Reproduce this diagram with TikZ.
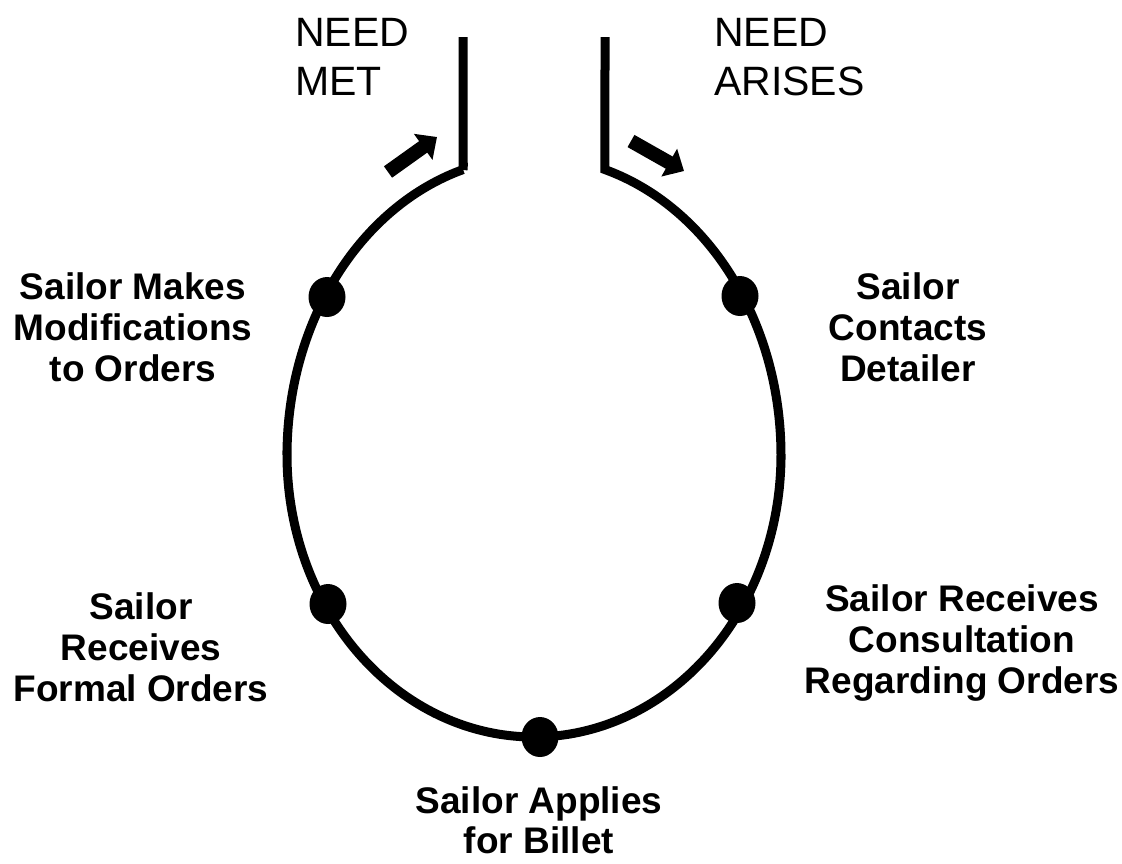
\documentclass[tikz,border=0pt]{standalone}
\usepackage{fontspec}
\setmainfont{Liberation Sans}
\usetikzlibrary{arrows.meta,shapes.geometric}
\tikzset{
  curve/.style={line width=9pt, line join=miter},
  blockarrow/.style={line width=14pt, -{Triangle[length=17pt,width=31pt]}},
  dot/.style={ellipse, fill=black, inner sep=0pt, minimum width=37pt, minimum height=40pt},
  lab/.style={align=center, anchor=north, inner sep=0pt, font=\bfseries\fontsize{37}{41}\selectfont},
  need/.style={align=left, anchor=north west, inner sep=0pt, font=\fontsize{41}{49}\selectfont}
}
\begin{document}
\begin{tikzpicture}[x=1pt,y=-1pt]
\useasboundingbox (0,0) rectangle (1122,863);
\coordinate (tl) at (463,37);
\coordinate (tr) at (605,37);
\draw[curve] (tl) -- (463,170)
  -- plot[domain=106.7:180, samples=40, smooth] ({534+247*cos(\x)},{455-298*sin(\x)})
  -- plot[domain=180:360, samples=80, smooth] ({534+247*cos(\x)},{455-282*sin(\x)})
  -- plot[domain=360:433.3, samples=40, smooth] ({534+247*cos(\x)},{455-298*sin(\x)})
  -- (tr);
\node[dot] (d1) at (327,297) {};
\node[dot] (d2) at (740,296) {};
\node[dot] (d3) at (328,604) {};
\node[dot] (d4) at (737,603) {};
\node[dot] (d5) at (540,737) {};
\coordinate (a1s) at (388,172);
\coordinate (a1e) at (437,137);
\coordinate (a2s) at (631,141);
\coordinate (a2e) at (684,171);
\draw[blockarrow] (a1s) -- (a1e);
\draw[blockarrow] (a2s) -- (a2e);
\node[need] (nm) at (295,18) {NEED\\MET};
\node[need] (na) at (714,18) {NEED\\ARISES};
\node[lab] (l1) at (133,272) {Sailor Makes\\Modifications\\to Orders};
\node[lab] (l2) at (908,272) {Sailor\\Contacts\\Detailer};
\node[lab] (l3) at (141,592) {Sailor\\Receives\\Formal Orders};
\node[lab] (l4) at (962,584) {Sailor Receives\\Consultation\\Regarding Orders};
\node[lab, font=\bfseries\fontsize{37}{40}\selectfont] (l5) at (539,786) {Sailor Applies\\for Billet};
\end{tikzpicture}
\end{document}
